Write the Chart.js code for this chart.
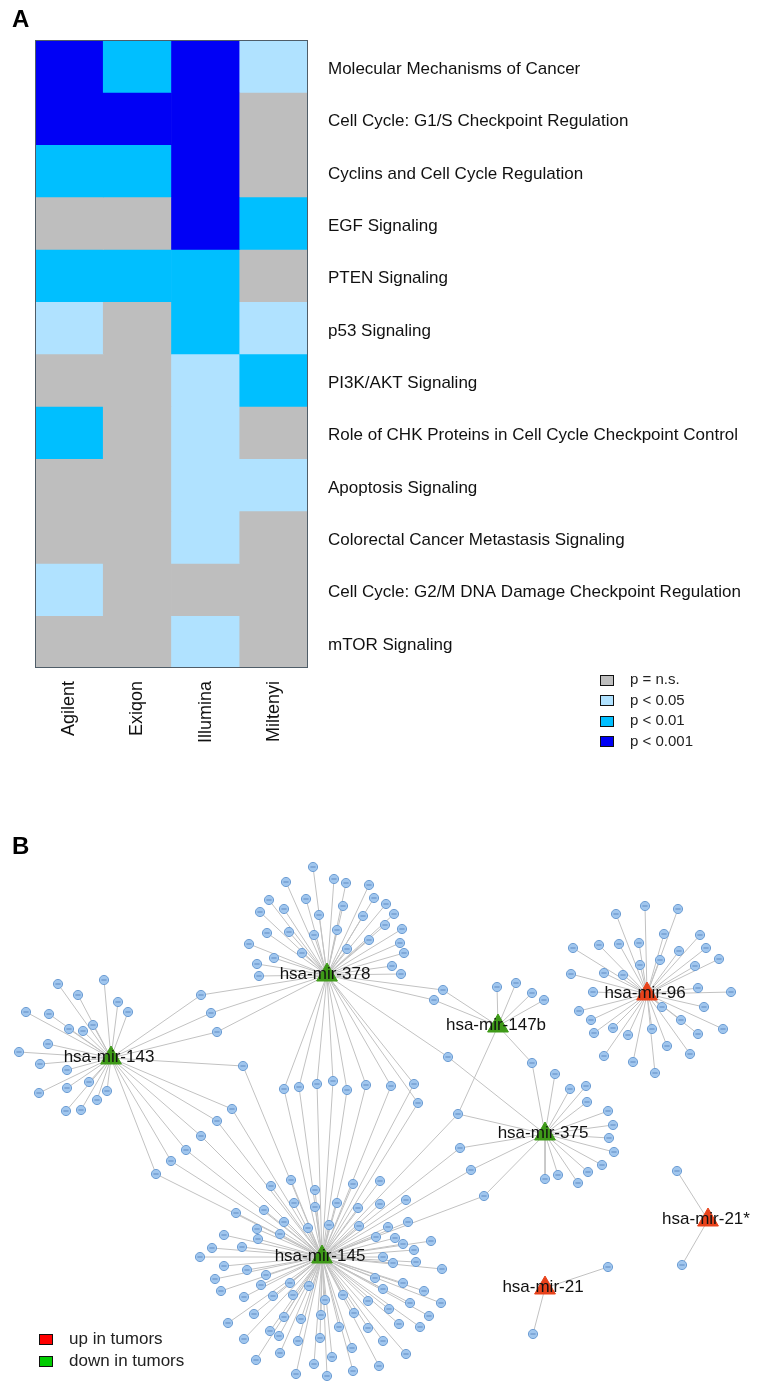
<!DOCTYPE html>
<html>
<head>
<meta charset="utf-8">
<script src="https://cdn.jsdelivr.net/npm/chart.js@4"></script>
<style>
  body { margin: 0; background: #fff; font-family: 'Liberation Sans', Arial, sans-serif; }
  #wrap { position: relative; width: 758px; height: 1391px; overflow: hidden; }
  canvas { position: absolute; left: 0; }
  .panel { position: absolute; font-weight: bold; font-size: 24px; color: #000; }
  .key { position: absolute; color: #222; white-space: nowrap; }
  .key span { display: inline-block; box-sizing: border-box; border: 1.5px solid #111; vertical-align: middle; }
</style>
</head>
<body>
<div id="wrap">
  <canvas id="heat" width="758" height="800" style="top:0"></canvas>
  <canvas id="net" width="758" height="591" style="top:800px"></canvas>
  <div class="panel" style="left:12px; top:5px;">A</div>
  <div class="panel" style="left:12px; top:832px;">B</div>
  <div id="keyA"></div>
  <div id="keyB"></div>
</div>
<script>
// ---- panel A: pathway enrichment per platform ----
const pathways = [
  'Molecular Mechanisms of Cancer',
  'Cell Cycle: G1/S Checkpoint Regulation',
  'Cyclins and Cell Cycle Regulation',
  'EGF Signaling',
  'PTEN Signaling',
  'p53 Signaling',
  'PI3K/AKT Signaling',
  'Role of CHK Proteins in Cell Cycle Checkpoint Control',
  'Apoptosis Signaling',
  'Colorectal Cancer Metastasis Signaling',
  'Cell Cycle: G2/M DNA Damage Checkpoint Regulation',
  'mTOR Signaling'
];
const platforms = ['Agilent', 'Exiqon', 'Illumina', 'Miltenyi'];
// 0 = n.s., 1 = p<0.05, 2 = p<0.01, 3 = p<0.001
const agilent  = [3, 3, 2, 0, 2, 1, 0, 2, 0, 0, 1, 0];
const exiqon   = [2, 3, 2, 0, 2, 0, 0, 0, 0, 0, 0, 0];
const illumina = [3, 3, 3, 3, 2, 2, 1, 1, 1, 1, 0, 1];
const miltenyi = [1, 0, 0, 2, 0, 1, 2, 0, 1, 0, 0, 0];
const levelLabels = ['p = n.s.', 'p < 0.05', 'p < 0.01', 'p < 0.001'];
const levelColors = ['#bebebe', '#b0e2ff', '#00bfff', '#0000f5'];

// ---- panel B: miRNA / target network ----
const hubNames = ['hsa-mir-378', 'hsa-mir-143', 'hsa-mir-147b', 'hsa-mir-96', 'hsa-mir-375', 'hsa-mir-145', 'hsa-mir-21*', 'hsa-mir-21'];
const hubX = [327, 111, 498, 647, 545, 322, 708, 545];
const hubY = [975, 1058, 1026, 994, 1134, 1257, 1220, 1288];
const hubTrend = ['down', 'down', 'down', 'up', 'down', 'down', 'up', 'up'];
const trendLabels = ['up in tumors', 'down in tumors'];

const mir378Targets = [[313,867],[286,882],[334,879],[346,883],[369,885],[269,900],[306,899],[374,898],[284,909],[343,906],
  [386,904],[260,912],[319,915],[363,916],[394,914],[289,932],[267,933],[314,935],[337,930],[385,925],[402,929],[369,940],
  [400,943],[249,944],[302,953],[347,949],[404,953],[274,958],[257,964],[259,976],[392,966],[401,974]];
const mir143Targets = [[58,984],[104,980],[78,995],[118,1002],[128,1012],[26,1012],[49,1014],[93,1025],[69,1029],[83,1031],
  [48,1044],[19,1052],[40,1064],[67,1070],[89,1082],[39,1093],[67,1088],[107,1091],[97,1100],[81,1110],[66,1111]];
const mir147bTargets = [[497,987],[516,983],[532,993],[544,1000]];
const mir96Targets = [[645,906],[678,909],[616,914],[664,934],[700,935],[573,948],[599,945],[619,944],[639,943],[679,951],
  [706,948],[719,959],[660,960],[640,965],[695,966],[571,974],[604,973],[623,975],[593,992],[698,988],[731,992],[662,1007],
  [704,1007],[579,1011],[591,1020],[681,1020],[613,1028],[652,1029],[723,1029],[594,1033],[628,1035],[698,1034],
  [604,1056],[633,1062],[667,1046],[690,1054],[655,1073]];
const mir375Targets = [[555,1074],[570,1089],[586,1086],[587,1102],[608,1111],[613,1125],[609,1138],[614,1152],[602,1165],
  [588,1172],[578,1183],[558,1175],[545,1179]];
const mir145Targets = [[271,1186],[291,1180],[315,1190],[353,1184],[380,1181],[264,1210],[294,1203],[315,1207],[337,1203],
  [358,1208],[380,1204],[406,1200],[284,1222],[308,1228],[329,1225],[359,1226],[388,1227],[408,1222],[431,1241],[257,1229],
  [258,1239],[280,1234],[376,1237],[395,1238],[403,1244],[414,1250],[383,1257],[393,1263],[416,1262],[442,1269],[266,1275],
  [261,1285],[290,1283],[309,1286],[293,1295],[273,1296],[375,1278],[383,1289],[403,1283],[424,1291],[343,1295],[325,1300],
  [368,1301],[410,1303],[441,1303],[389,1309],[354,1313],[429,1316],[254,1314],[284,1317],[301,1319],[321,1315],[399,1324],
  [420,1327],[339,1327],[368,1328],[270,1331],[279,1336],[298,1341],[320,1338],[383,1341],[352,1348],[280,1353],[406,1354],
  [256,1360],[332,1357],[314,1364],[379,1366],[296,1374],[327,1376],[353,1371],
  [236,1213],[224,1235],[212,1248],[242,1247],[200,1257],[224,1266],[247,1270],[215,1279],[221,1291],[244,1297],[228,1323],[244,1339]];
const mir21sTargets = [[677,1171],[682,1265]];
const mir21Targets = [[608,1267],[533,1334]];
const shared378and143 = [[201,995],[211,1013],[217,1032]];
const shared378and147b = [[443,990],[434,1000]];
const shared378and375 = [[448,1057]];
const shared378and145 = [[284,1089],[299,1087],[317,1084],[333,1081],[347,1090],[366,1085],[391,1086],[414,1084],[418,1103]];
const shared143and145 = [[243,1066],[232,1109],[217,1121],[201,1136],[186,1150],[171,1161],[156,1174]];
const shared147band375 = [[532,1063]];
const shared147b375and145 = [[458,1114]];
const shared375and145 = [[460,1148],[471,1170],[484,1196]];

const targetGroups = [
  { points: mir378Targets, hubs: ['hsa-mir-378'] },
  { points: mir143Targets, hubs: ['hsa-mir-143'] },
  { points: mir147bTargets, hubs: ['hsa-mir-147b'] },
  { points: mir96Targets, hubs: ['hsa-mir-96'] },
  { points: mir375Targets, hubs: ['hsa-mir-375'] },
  { points: mir145Targets, hubs: ['hsa-mir-145'] },
  { points: mir21sTargets, hubs: ['hsa-mir-21*'] },
  { points: mir21Targets, hubs: ['hsa-mir-21'] },
  { points: shared378and143, hubs: ['hsa-mir-378', 'hsa-mir-143'] },
  { points: shared378and147b, hubs: ['hsa-mir-378', 'hsa-mir-147b'] },
  { points: shared378and375, hubs: ['hsa-mir-378', 'hsa-mir-375'] },
  { points: shared378and145, hubs: ['hsa-mir-378', 'hsa-mir-145'] },
  { points: shared143and145, hubs: ['hsa-mir-143', 'hsa-mir-145'] },
  { points: shared147band375, hubs: ['hsa-mir-147b', 'hsa-mir-375'] },
  { points: shared147b375and145, hubs: ['hsa-mir-147b', 'hsa-mir-375', 'hsa-mir-145'] },
  { points: shared375and145, hubs: ['hsa-mir-375', 'hsa-mir-145'] }
];

Chart.defaults.font.family = "'Liberation Sans', Arial, sans-serif";
Chart.defaults.color = '#111';

// frame round the heatmap
const heatFrame = {
  id: 'heatFrame',
  afterDatasetsDraw(chart) {
    const a = chart.chartArea, ctx = chart.ctx;
    ctx.save();
    ctx.strokeStyle = '#4f5d68';
    ctx.lineWidth = 1;
    ctx.strokeRect(a.left + 0.5, a.top + 0.5, a.right - a.left - 1, a.bottom - a.top - 1);
    ctx.restore();
  }
};

const platformLevels = [agilent, exiqon, illumina, miltenyi];
const heatDatasets = pathways.map((p, r) => ({
  label: p,
  data: platforms.map(() => 1),
  backgroundColor: platformLevels.map(col => levelColors[col[r]]),
  borderWidth: 0,
  barPercentage: 1,
  categoryPercentage: 1
}));

new Chart(document.getElementById('heat'), {
  type: 'bar',
  data: { labels: platforms, datasets: heatDatasets },
  options: {
    responsive: false,
    animation: false,
    layout: { padding: { left: 35, top: 40, right: 0, bottom: 0 } },
    plugins: { legend: { display: false }, tooltip: { enabled: false } },
    scales: {
      x: {
        stacked: true,
        grid: { display: false },
        border: { display: false },
        ticks: { minRotation: 90, maxRotation: 90, padding: 5, font: { size: 18 }, color: '#111' },
        afterFit: s => { s.height = 132; }
      },
      y: { stacked: true, min: 0, max: pathways.length, reverse: true, display: false },
      y2: {
        type: 'category',
        labels: pathways,
        position: 'right',
        offset: true,
        grid: { display: false, drawTicks: false },
        border: { display: false },
        ticks: { padding: 20, labelOffset: 3, font: { size: 17 }, color: '#111', autoSkip: false },
        afterFit: s => { s.width = 450; }
      }
    }
  },
  plugins: [heatFrame]
});

// ---- network ----
const edgePoints = [];
const leafPoints = [];
targetGroups.forEach(g => {
  g.points.forEach(p => {
    leafPoints.push({ x: p[0], y: p[1] });
    g.hubs.forEach(h => {
      const i = hubNames.indexOf(h);
      edgePoints.push({ x: hubX[i], y: hubY[i] }, { x: p[0], y: p[1] }, { x: null, y: null });
    });
  });
});
const trendColor = { up: '#e8421b', down: '#3e9a18' };

const hubLabels = {
  id: 'hubLabels',
  afterDatasetsDraw(chart) {
    const ctx = chart.ctx, sx = chart.scales.x, sy = chart.scales.y;
    ctx.save();
    ctx.font = "17px 'Liberation Sans', Arial, sans-serif";
    ctx.fillStyle = '#111';
    ctx.textAlign = 'center';
    ctx.textBaseline = 'middle';
    hubNames.forEach((n, i) => {
      ctx.fillText(n, sx.getPixelForValue(hubX[i]) - 2, sy.getPixelForValue(hubY[i]) - 1);
    });
    ctx.restore();
  }
};

new Chart(document.getElementById('net'), {
  type: 'scatter',
  data: {
    datasets: [
      {
        data: edgePoints, showLine: true, spanGaps: false, pointRadius: 0,
        borderColor: '#c2c2c2', borderWidth: 1, order: 4
      },
      {
        data: leafPoints, pointRadius: 4.6, pointBackgroundColor: '#a0c6ee',
        pointBorderColor: '#6d9dd3', pointBorderWidth: 1, order: 3
      },
      {
        data: leafPoints, pointStyle: 'line', pointRadius: 2.6,
        pointBorderColor: '#5f8ac2', pointBorderWidth: 1, order: 2
      },
      {
        data: hubNames.map((n, i) => ({ x: hubX[i], y: hubY[i] })),
        pointStyle: 'triangle', pointRadius: 12,
        pointBackgroundColor: hubTrend.map(t => trendColor[t]),
        pointBorderColor: hubTrend.map(t => trendColor[t]),
        pointBorderWidth: 1, order: 1
      }
    ]
  },
  options: {
    responsive: false,
    animation: false,
    layout: { padding: 0, autoPadding: false },
    plugins: { legend: { display: false }, tooltip: { enabled: false } },
    scales: {
      x: { type: 'linear', min: 0, max: 758, display: false },
      y: { type: 'linear', min: 800, max: 1391, reverse: true, display: false }
    }
  },
  plugins: [hubLabels]
});

// ---- keys ----
const keyA = document.getElementById('keyA');
levelLabels.forEach((t, i) => {
  const d = document.createElement('div');
  d.className = 'key';
  d.style.fontSize = '15px';
  d.style.left = '600px';
  d.style.top = (670 + i * 20.5) + 'px';
  d.innerHTML = `<span style="width:14px;height:11px;background:${levelColors[i]};margin-right:16px"></span>${t}`;
  keyA.appendChild(d);
});
const keyB = document.getElementById('keyB');
const keyBColors = ['#ff0000', '#00cc00'];
trendLabels.forEach((t, i) => {
  const d = document.createElement('div');
  d.className = 'key';
  d.style.fontSize = '17px';
  d.style.left = '39px';
  d.style.top = (1329 + i * 21.5) + 'px';
  d.innerHTML = `<span style="width:14px;height:11px;background:${keyBColors[i]};margin-right:16px"></span>${t}`;
  keyB.appendChild(d);
});
</script>
</body>
</html>
